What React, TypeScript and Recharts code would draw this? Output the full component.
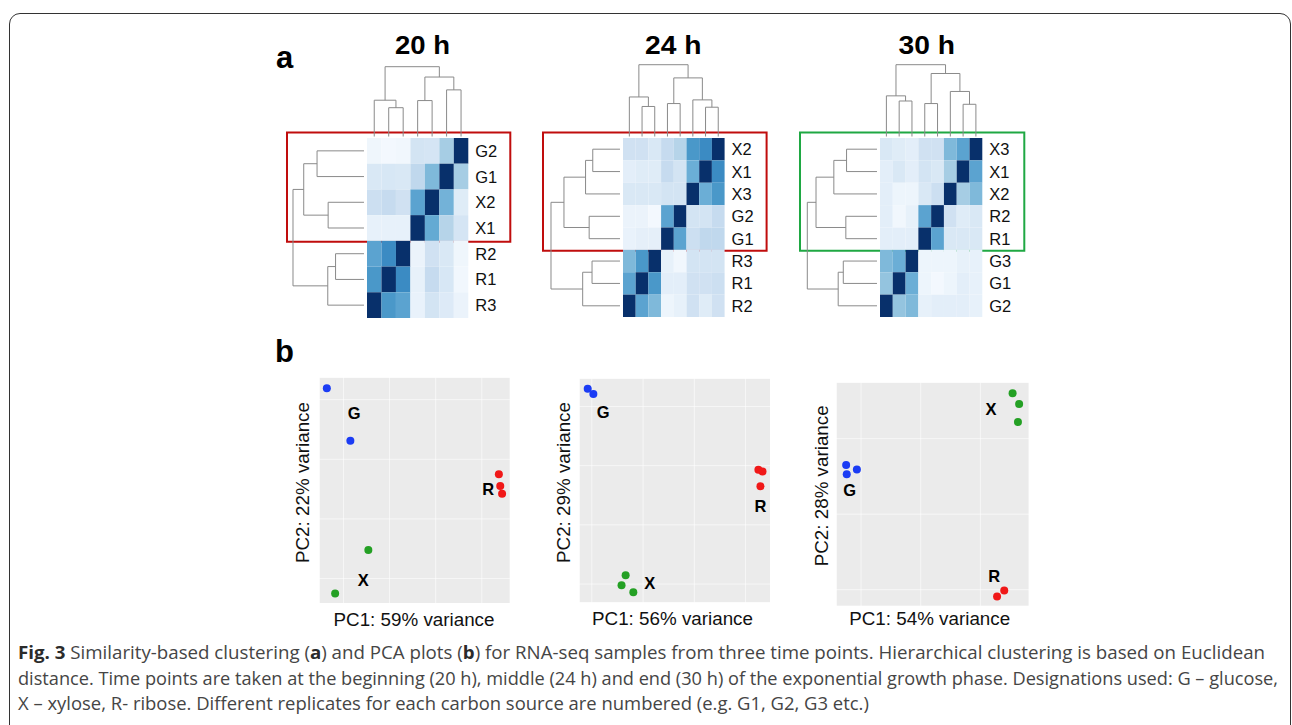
import React, { useLayoutEffect, useRef, useState } from 'react'
import {
	ScatterChart,
	Scatter,
	XAxis,
	YAxis,
	CartesianGrid,
	ReferenceLine,
	ReferenceArea,
} from 'recharts'

const FONT = '"Liberation Sans", Arial, Helvetica, sans-serif'
const CAPTION_FONT = '"Open Sans", "Noto Sans", sans-serif'

// ---------- panel a: sample distance heatmaps ----------
// rows top -> bottom; columns are the same samples in reversed order
const rows20 = ['G2', 'G1', 'X2', 'X1', 'R2', 'R1', 'R3']
const sim20 = [
	[0.04, 0.02, 0.03, 0.18, 0.17, 0.35, 1.0],
	[0.15, 0.16, 0.15, 0.27, 0.45, 1.0, 0.35],
	[0.22, 0.25, 0.2, 0.55, 1.0, 0.48, 0.12],
	[0.08, 0.08, 0.08, 1.0, 0.52, 0.3, 0.17],
	[0.55, 0.65, 1.0, 0.06, 0.2, 0.15, 0.04],
	[0.6, 1.0, 0.65, 0.08, 0.25, 0.16, 0.03],
	[1.0, 0.6, 0.55, 0.07, 0.18, 0.13, 0.06],
]
// merges [a, b, height]: leaves 0..n-1 are row indices, merge k becomes node n+k
const tree20 = [
	[0, 1, 0.675],
	[2, 3, 0.525],
	[7, 8, 0.855],
	[4, 5, 0.425],
	[10, 6, 0.53],
	[9, 11, 1],
]

const rows24 = ['X2', 'X1', 'X3', 'G2', 'G1', 'R3', 'R1', 'R2']
const sim24 = [
	[0.2, 0.2, 0.15, 0.25, 0.3, 0.6, 0.65, 1.0],
	[0.1, 0.12, 0.12, 0.25, 0.18, 0.5, 1.0, 0.65],
	[0.15, 0.15, 0.15, 0.18, 0.18, 1.0, 0.5, 0.6],
	[0.06, 0.06, 0.02, 0.55, 1.0, 0.18, 0.18, 0.25],
	[0.07, 0.09, 0.09, 1.0, 0.55, 0.22, 0.27, 0.27],
	[0.45, 0.6, 1.0, 0.08, 0.03, 0.18, 0.18, 0.18],
	[0.55, 1.0, 0.6, 0.1, 0.1, 0.2, 0.2, 0.22],
	[1.0, 0.55, 0.45, 0.05, 0.08, 0.2, 0.12, 0.2],
]
const tree24 = [
	[0, 1, 0.42],
	[8, 2, 0.52],
	[3, 4, 0.47],
	[9, 10, 0.82],
	[5, 6, 0.43],
	[12, 7, 0.56],
	[11, 13, 1],
]

const rows30 = ['X3', 'X1', 'X2', 'R2', 'R1', 'G3', 'G1', 'G2']
const sim30 = [
	[0.15, 0.12, 0.1, 0.2, 0.2, 0.45, 0.55, 1.0],
	[0.1, 0.15, 0.1, 0.18, 0.15, 0.35, 1.0, 0.55],
	[0.1, 0.05, 0.05, 0.15, 0.22, 1.0, 0.35, 0.45],
	[0.1, 0.03, 0.08, 0.55, 1.0, 0.2, 0.12, 0.15],
	[0.1, 0.1, 0.1, 1.0, 0.55, 0.15, 0.15, 0.15],
	[0.45, 0.5, 1.0, 0.05, 0.05, 0.05, 0.08, 0.08],
	[0.4, 1.0, 0.5, 0.05, 0.02, 0.05, 0.1, 0.08],
	[1.0, 0.4, 0.45, 0.08, 0.1, 0.1, 0.1, 0.08],
]
const tree30 = [
	[0, 1, 0.46],
	[8, 2, 0.635],
	[3, 4, 0.47],
	[9, 10, 0.88],
	[5, 6, 0.505],
	[12, 7, 0.575],
	[11, 13, 1],
]

// ---------- panel b: PCA ----------
const pca20G = [{ x: -18.6, y: 16.9 }, { x: -13.5, y: 8.1 }]
const pca20X = [{ x: -9.6, y: -10.2 }, { x: -16.8, y: -17.5 }]
const pca20R = [{ x: 18.7, y: 2.5 }, { x: 19.0, y: 0.5 }, { x: 19.4, y: -0.8 }]
const pca20Labels = [
	{ x: -12.7, y: 12.8, name: 'G' },
	{ x: -10.7, y: -15.3, name: 'X' },
	{ x: 16.4, y: 0, name: 'R' },
]

const pca24G = [{ x: -15.8, y: 18.0 }, { x: -14.7, y: 17.1 }]
const pca24X = [{ x: -8.4, y: -13.5 }, { x: -9.2, y: -15.2 }, { x: -6.9, y: -16.4 }]
const pca24R = [{ x: 17.5, y: 4.3 }, { x: 18.3, y: 4.0 }, { x: 17.9, y: 1.5 }]
const pca24Labels = [
	{ x: -12.8, y: 14.1, name: 'G' },
	{ x: -3.7, y: -14.9, name: 'X' },
	{ x: 17.9, y: -1.9, name: 'R' },
]

const pca30G = [{ x: -17.5, y: 1.5 }, { x: -15.7, y: 0.9 }, { x: -17.4, y: 0.3 }]
const pca30X = [{ x: 10.4, y: 11.0 }, { x: 11.5, y: 9.6 }, { x: 11.3, y: 7.2 }]
const pca30R = [{ x: 9.0, y: -15.1 }, { x: 7.8, y: -15.9 }]
const pca30Labels = [
	{ x: 6.8, y: 8.9, name: 'X' },
	{ x: -16.9, y: -1.8, name: 'G' },
	{ x: 7.3, y: -13.2, name: 'R' },
]

// |...| marks bold runs
const captionLines = [
	'|Fig. 3| Similarity-based clustering (|a|) and PCA plots (|b|) for RNA-seq samples from three time points. Hierarchical clustering is based on Euclidean',
	'distance. Time points are taken at the beginning (20 h), middle (24 h) and end (30 h) of the exponential growth phase. Designations used: G \u2013 glucose,',
	'X \u2013 xylose, R- ribose. Different replicates for each carbon source are numbered (e.g. G1, G2, G3 etc.)',
]

const BLUES = ['#f7fbff', '#deebf7', '#c6dbef', '#9ecae1', '#6baed6', '#4292c6', '#2171b5', '#08519c', '#08306b']
const BLUE = '#1b3cf4'
const RED = '#f01818'
const GREEN = '#24a024'

function hex(c: string) {
	return [1, 3, 5].map((i) => parseInt(c.slice(i, i + 2), 16))
}

function blues(v: number) {
	const t = Math.max(0, Math.min(1, v)) * (BLUES.length - 1)
	const i = Math.min(Math.floor(t), BLUES.length - 2)
	const f = t - i
	const a = hex(BLUES[i])
	const b = hex(BLUES[i + 1])
	const m = a.map((c, k) => Math.round(c + (b[k] - c) * f))
	return `rgb(${m[0]},${m[1]},${m[2]})`
}

// elbow segments of a dendrogram in (position, height) space
function dendro(tree: number[][], n: number, leafH: number) {
	const pos: number[] = []
	const ht: number[] = []
	for (let i = 0; i < n; i++) {
		pos[i] = i + 0.5
		ht[i] = leafH
	}
	const segs: number[][] = []
	tree.forEach(([a, b, h], k) => {
		segs.push([pos[a], ht[a], pos[a], h])
		segs.push([pos[a], h, pos[b], h])
		segs.push([pos[b], h, pos[b], ht[b]])
		pos[n + k] = (pos[a] + pos[b]) / 2
		ht[n + k] = h
	})
	return segs
}

function HeatPanel({ cfg }: { cfg: any }) {
	const { rows, sim, tree, heatLeft, heatTop, colPx, rowPx, leftDepth, topDepth, boxColor, boxRows } = cfg
	const n = rows.length
	const padL = 90
	const padR = 52
	const padT = 80
	const padB = 6
	const xDomain = [-padL / colPx, n + padR / colPx]
	const yDomain = [-padT / rowPx, n + padB / rowPx]
	const width = padL + padR + n * colPx
	const height = padT + padB + n * rowPx

	const cells: any[] = []
	sim.forEach((row: number[], r: number) =>
		row.forEach((v, c) => cells.push({ x: c + 0.5, y: r + 0.5, v }))
	)
	const labels = rows.map((name: string, i: number) => ({ x: n + 7 / colPx, y: i + 0.5, name }))

	const lDepth = leftDepth / colPx
	const tDepth = topDepth / rowPx
	const leftSegs = dendro(tree, n, 3 / leftDepth).map(([p1, h1, p2, h2]) => [
		{ x: -h1 * lDepth, y: p1 },
		{ x: -h2 * lDepth, y: p2 },
	])
	const topSegs = dendro(tree, n, 1.5 / topDepth).map(([p1, h1, p2, h2]) => [
		{ x: n - p1, y: -h1 * tDepth },
		{ x: n - p2, y: -h2 * tDepth },
	])

	return (
		<div style={{ position: 'absolute', left: heatLeft - padL, top: heatTop - padT }}>
			<ScatterChart width={width} height={height} margin={{ top: 0, right: 0, bottom: 0, left: 0 }}>
				<XAxis type='number' dataKey='x' domain={xDomain} allowDataOverflow hide />
				<YAxis type='number' dataKey='y' domain={yDomain} allowDataOverflow reversed hide />
				<Scatter
					data={cells}
					isAnimationActive={false}
					shape={(p: any) => (
						<rect
							x={p.cx - colPx / 2}
							y={p.cy - rowPx / 2}
							width={colPx}
							height={rowPx}
							fill={blues(p.payload.v)}
						/>
					)}
				/>
				<Scatter
					data={labels}
					isAnimationActive={false}
					shape={(p: any) => (
						<text
							x={p.cx}
							y={p.cy}
							dominantBaseline='central'
							fontFamily={FONT}
							fontSize={16.5}
							fill='#111'
						>
							{p.payload.name}
						</text>
					)}
				/>
				{leftSegs.concat(topSegs).map((s, i) => (
					<ReferenceLine key={i} segment={s} stroke='#8a8a8a' strokeWidth={1} ifOverflow='visible' />
				))}
				<ReferenceArea
					x1={-80 / colPx}
					x2={n + 42 / colPx}
					y1={-5.5 / rowPx}
					y2={boxRows + 1 / rowPx}
					fill='none'
					fillOpacity={0}
					stroke={boxColor}
					strokeWidth={2}
					ifOverflow='visible'
				/>
			</ScatterChart>
		</div>
	)
}

const heatConfigs = [
	{ rows: rows20, sim: sim20, tree: tree20, heatLeft: 366.7, heatTop: 138, colPx: 101.3 / 7, rowPx: 180 / 7, leftDepth: 74, topDepth: 71.3, boxColor: '#c00d0d', boxRows: 4 },
	{ rows: rows24, sim: sim24, tree: tree24, heatLeft: 622.7, heatTop: 138.3, colPx: 101.6 / 8, rowPx: 179 / 8, leftDepth: 72, topDepth: 73.3, boxColor: '#c00d0d', boxRows: 5 },
	{ rows: rows30, sim: sim30, tree: tree30, heatLeft: 880, heatTop: 138.3, colPx: 102.3 / 8, rowPx: 179 / 8, leftDepth: 72.7, topDepth: 73.3, boxColor: '#1fa843', boxRows: 5 },
]

const AX = 4

function PcaPanel({ cfg }: { cfg: any }) {
	const { left, top, w, h, xDomain, yDomain, xMajor, xMinor, yMajor, yMinor, G, X, R, labels } = cfg
	const dot = (color: string) => (p: any) => <circle cx={p.cx} cy={p.cy} r={4} fill={color} />
	return (
		<>
			<div style={{ position: 'absolute', left, top, width: w, height: h, background: '#ebebeb' }} />
			<div style={{ position: 'absolute', left: left - AX, top }}>
				<ScatterChart width={w + AX} height={h + AX} margin={{ top: 0, right: 0, bottom: 0, left: 0 }}>
					<XAxis xAxisId='minor' type='number' dataKey='x' domain={xDomain} allowDataOverflow ticks={xMinor} interval={0} hide />
					<YAxis yAxisId='minor' type='number' dataKey='y' domain={yDomain} allowDataOverflow ticks={yMinor} interval={0} hide />
					<XAxis
						type='number'
						dataKey='x'
						domain={xDomain}
						allowDataOverflow
						ticks={xMajor}
						interval={0}
						tick={false}
						axisLine={false}
						tickLine={{ stroke: '#333' }}
						tickSize={3.5}
						height={AX}
					/>
					<YAxis
						type='number'
						dataKey='y'
						domain={yDomain}
						allowDataOverflow
						ticks={yMajor}
						interval={0}
						tick={false}
						axisLine={false}
						tickLine={{ stroke: '#333' }}
						tickSize={3.5}
						width={AX}
					/>
					<CartesianGrid xAxisId='minor' yAxisId='minor' stroke='#ffffff' strokeWidth={0.6} />
					<CartesianGrid stroke='#ffffff' strokeWidth={1.3} />
					<Scatter data={G} isAnimationActive={false} shape={dot(BLUE)} />
					<Scatter data={X} isAnimationActive={false} shape={dot(GREEN)} />
					<Scatter data={R} isAnimationActive={false} shape={dot(RED)} />
					<Scatter
						data={labels}
						isAnimationActive={false}
						shape={(p: any) => (
							<text
								x={p.cx}
								y={p.cy}
								textAnchor='middle'
								dominantBaseline='central'
								fontFamily={FONT}
								fontWeight='bold'
								fontSize={16.5}
								fill='#000'
							>
								{p.payload.name}
							</text>
						)}
					/>
				</ScatterChart>
			</div>
		</>
	)
}

const pcaConfigs = [
	{
		left: 319.3, top: 376.7, w: 191.4, h: 226.6,
		xDomain: [-20.3, 21.2], yDomain: [-19.2, 18.8],
		xMajor: [-20, -10, 0, 10, 20], xMinor: [-15, -5, 5, 15],
		yMajor: [-10, 0, 10], yMinor: [-15, -5, 5, 15],
		G: pca20G, X: pca20X, R: pca20R, labels: pca20Labels,
	},
	{
		left: 579.3, top: 378.3, w: 191.7, h: 225,
		xDomain: [-17.5, 19.9], yDomain: [-18.2, 19.8],
		xMajor: [-10, 0, 10], xMinor: [-15, -5, 5, 15],
		yMajor: [-10, 0, 10], yMinor: [-15, -5, 5, 15],
		G: pca24G, X: pca24X, R: pca24R, labels: pca24Labels,
	},
	{
		left: 836, top: 381.7, w: 193.3, h: 224.3,
		xDomain: [-19.2, 13.2], yDomain: [-17.2, 12.5],
		xMajor: [-10, 0, 10], xMinor: [-15, -5, 5],
		yMajor: [-10, 0, 10], yMinor: [-15, -5, 5],
		G: pca30G, X: pca30X, R: pca30R, labels: pca30Labels,
	},
]

const titles = [
	{ text: '20 h', cx: 422.5, len: 55 },
	{ text: '24 h', cx: 673.3, len: 56.5 },
	{ text: '30 h', cx: 926.7, len: 56.5 },
]
const xTitles = [
	{ text: 'PC1: 59% variance', cx: 414, y: 626 },
	{ text: 'PC1: 56% variance', cx: 672.5, y: 625 },
	{ text: 'PC1: 54% variance', cx: 929.7, y: 625 },
]
const yTitles = [
	{ text: 'PC2: 22% variance', x: 309.3, cy: 482.5 },
	{ text: 'PC2: 29% variance', x: 570, cy: 482.5 },
	{ text: 'PC2: 28% variance', x: 828.3, cy: 485.8 },
]
// baselines; the first two lines are justified to these widths
const captionY = [659, 684.5, 710]
const captionWidth = [1247, 1260]

function captionSpans(text: string) {
	return text.split('|').map((s, i) =>
		i % 2 === 1 ? (
			<tspan key={i} fontWeight='bold' fill='#2b2b2b'>
				{s}
			</tspan>
		) : (
			<tspan key={i}>{s}</tspan>
		)
	)
}

function Caption() {
	const refs = useRef<any[]>([])
	const [lens, setLens] = useState<number[] | null>(null)
	useLayoutEffect(() => {
		const nat = refs.current.map((el) => (el ? el.getComputedTextLength() : 0))
		if (!nat[0] || !nat[1]) return
		const ratio = (captionWidth[0] / nat[0] + captionWidth[1] / nat[1]) / 2
		setLens([captionWidth[0], captionWidth[1], nat[2] * ratio])
	}, [])
	return (
		<g>
			{captionLines.map((line, i) => (
				<text
					key={'m' + i}
					ref={(el) => (refs.current[i] = el)}
					x={18}
					y={-100}
					fontFamily={CAPTION_FONT}
					fontSize={18}
					visibility='hidden'
				>
					{captionSpans(line)}
				</text>
			))}
			{lens &&
				captionLines.map((line, i) => (
					<text
						key={i}
						x={18}
						y={captionY[i]}
						textLength={lens[i]}
						lengthAdjust='spacingAndGlyphs'
						fontFamily={CAPTION_FONT}
						fontSize={18}
						fill='#454545'
					>
						{captionSpans(line)}
					</text>
				))}
		</g>
	)
}

export default function App() {
	return (
		<div
			style={{
				position: 'absolute',
				left: 0,
				top: 0,
				width: 1292,
				height: 725,
				overflow: 'hidden',
				background: '#fff',
			}}
		>
			<div
				style={{
					position: 'absolute',
					left: 8.5,
					top: 12.5,
					width: 1282,
					height: 800,
					border: '1.5px solid #333',
					borderRadius: 11,
					boxSizing: 'border-box',
				}}
			/>
			{heatConfigs.map((c, i) => (
				<HeatPanel key={i} cfg={c} />
			))}
			{pcaConfigs.map((c, i) => (
				<PcaPanel key={i} cfg={c} />
			))}
			<svg
				width={1292}
				height={725}
				style={{ position: 'absolute', left: 0, top: 0, pointerEvents: 'none' }}
			>
				<text x={276} y={68} fontFamily={FONT} fontWeight='bold' fontSize={31} fill='#000'>
					a
				</text>
				<text x={275} y={361.5} fontFamily={FONT} fontWeight='bold' fontSize={31} fill='#000'>
					b
				</text>
				{titles.map((t) => (
					<text
						key={t.text}
						x={t.cx}
						y={54.3}
						textAnchor='middle'
						textLength={t.len}
						lengthAdjust='spacingAndGlyphs'
						fontFamily={FONT}
						fontWeight='bold'
						fontSize={25}
						fill='#000'
					>
						{t.text}
					</text>
				))}
				{xTitles.map((t) => (
					<text
						key={t.text}
						x={t.cx}
						y={t.y}
						textAnchor='middle'
						textLength={161}
						lengthAdjust='spacingAndGlyphs'
						fontFamily={FONT}
						fontSize={17.5}
						fill='#111'
					>
						{t.text}
					</text>
				))}
				{yTitles.map((t) => (
					<text
						key={t.text}
						x={t.x}
						y={t.cy}
						transform={`rotate(-90 ${t.x} ${t.cy})`}
						textAnchor='middle'
						textLength={161}
						lengthAdjust='spacingAndGlyphs'
						fontFamily={FONT}
						fontSize={17.5}
						fill='#111'
					>
						{t.text}
					</text>
				))}
				<Caption />
			</svg>
		</div>
	)
}
